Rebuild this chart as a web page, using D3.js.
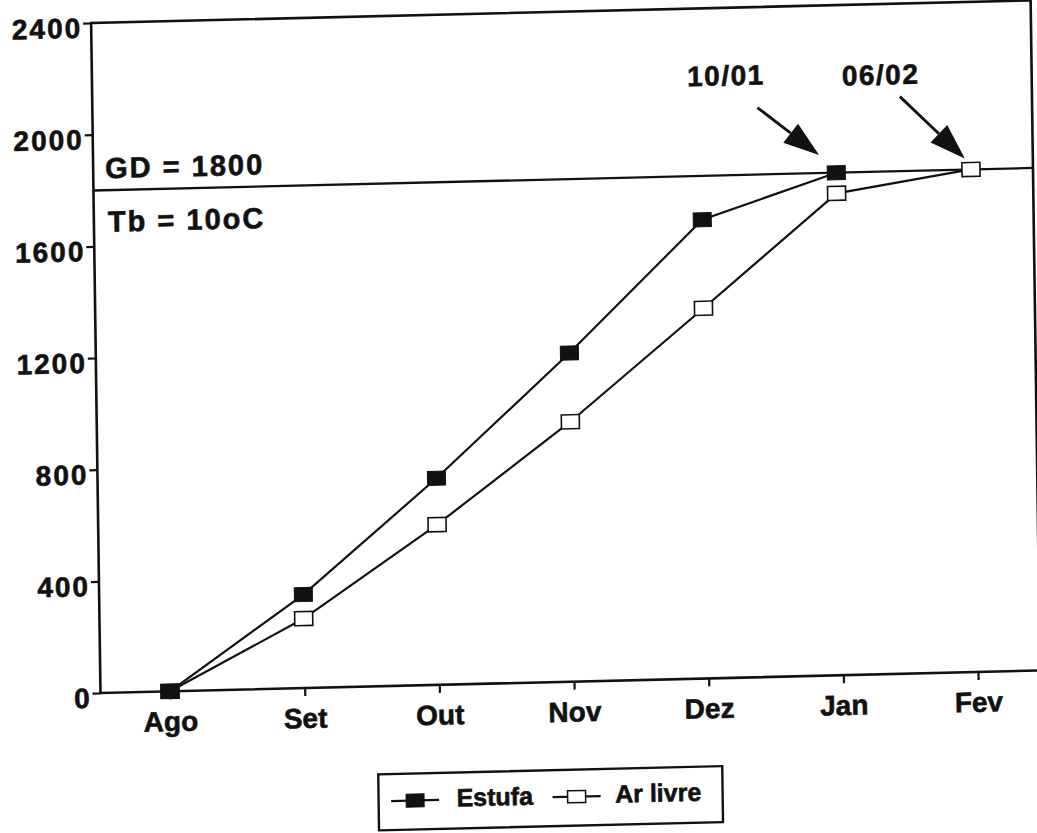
<!DOCTYPE html>
<html>
<head>
<meta charset="utf-8">
<script src="https://cdn.jsdelivr.net/npm/d3@7"></script>
<style>
  html, body { margin: 0; padding: 0; background: #ffffff; }
  text { font-family: "Liberation Sans", Arial, Helvetica, sans-serif; font-weight: bold; fill: #111; stroke: #111; stroke-width: 0.6px; }
</style>
</head>
<body>
<script>
// Graus-dia acumulados (Tb = 10 oC), estufa vs. ar livre
const months   = ["Ago", "Set", "Out", "Nov", "Dez", "Jan", "Fev"];
const estufa   = [0, 335, 740, 1177, 1643, 1800];          // Ago .. Jan
const arLivre  = [0, 249, 574, 931, 1326, 1726, 1800];     // Ago .. Fev
const yTicks   = [0, 400, 800, 1200, 1600, 2000, 2400];
const gdValue  = 1800;
const gdLabel  = "GD = 1800";
const tbLabel  = "Tb = 10oC";
const dateLabels = ["10/01", "06/02"];
const dateMonths = ["Jan", "Fev"];
const seriesNames = ["Estufa", "Ar livre"];

const W = 1037, H = 833;
const frame = { left: 100.5, right: 1040, top: 23, bottom: 693 };

const svg = d3.select("body").append("svg")
  .attr("width", W).attr("height", H);
svg.append("rect").attr("width", W).attr("height", H).attr("fill", "#ffffff");

// the whole figure sits at a slight tilt
const tilt = { b: -0.024, c: 0.014 };
const g = svg.append("g")
  .attr("transform", `matrix(1,${tilt.b},${tilt.c},1,${-tilt.c * frame.bottom},${-tilt.b * frame.left})`);

const x = d3.scalePoint().domain(months).range([170, 978]);
const y = d3.scaleLinear().domain([0, 2400]).range([frame.bottom, frame.top]);

// plot frame
g.append("rect")
  .attr("x", frame.left).attr("y", frame.top)
  .attr("width", frame.right - frame.left).attr("height", frame.bottom - frame.top)
  .attr("fill", "none").attr("stroke", "#111").attr("stroke-width", 2.6);

// y axis
const yAxis = d3.axisLeft(y).tickValues(yTicks).tickFormat(d3.format("d"))
  .tickSize(8).tickPadding(1).tickSizeOuter(0);
const gy = g.append("g").attr("transform", `translate(${frame.left},0)`).call(yAxis);
gy.select(".domain").remove();
gy.selectAll(".tick line").attr("stroke", "#111").attr("stroke-width", 2.2);
gy.selectAll(".tick text")
  .attr("dy", "0.5em")
  .style("font-size", "28px").style("letter-spacing", "2px")
  .attr("fill", "#111");

// x axis
const xAxis = d3.axisBottom(x).tickSize(8).tickPadding(12).tickSizeOuter(0);
const gx = g.append("g").attr("transform", `translate(0,${frame.bottom})`).call(xAxis);
gx.select(".domain").remove();
gx.selectAll(".tick line").attr("stroke", "#111").attr("stroke-width", 2.2);
gx.selectAll(".tick text").style("font-size", "28px").attr("fill", "#111");

// GD reference line
g.append("line")
  .attr("x1", frame.left).attr("x2", frame.right)
  .attr("y1", y(gdValue)).attr("y2", y(gdValue))
  .attr("stroke", "#111").attr("stroke-width", 2.3);
g.append("text").attr("x", frame.left + 12).attr("y", y(gdValue) - 12)
  .style("font-size", "29px").style("letter-spacing", "2px").text(gdLabel);
g.append("text").attr("x", frame.left + 14).attr("y", y(gdValue) + 41.5)
  .style("font-size", "29px").style("letter-spacing", "2px").text(tbLabel);

// series
const line = d3.line().x(d => x(d.m)).y(d => y(d.v));
const toPts = arr => arr.map((v, i) => ({ m: months[i], v }));
const mw = 18, mh = 14;

function drawSeries(vals, filled) {
  const pts = toPts(vals);
  g.append("path").datum(pts).attr("d", line)
    .attr("fill", "none").attr("stroke", "#111").attr("stroke-width", 2.2);
  g.selectAll(null).data(pts).enter().append("rect")
    .attr("x", d => x(d.m) - mw / 2).attr("y", d => y(d.v) - mh / 2)
    .attr("width", mw).attr("height", mh)
    .attr("fill", filled ? "#111" : "#fff")
    .attr("stroke", "#111").attr("stroke-width", filled ? 1 : 1.6);
}
drawSeries(arLivre, false);
drawSeries(estufa, true);

// date annotations with arrows
const arrows = [
  { m: dateMonths[0], label: dateLabels[0], tip: [-17, -18], tail: [-78, -67], text: [-109, -90] },
  { m: dateMonths[1], label: dateLabels[1], tip: [-6, -11], tail: [-70, -74.5], text: [-89, -87] }
];
arrows.forEach(a => {
  const px = x(a.m), py = y(gdValue);
  const tx = px + a.tip[0], ty = py + a.tip[1];
  const sx = px + a.tail[0], sy = py + a.tail[1];
  const ang = Math.atan2(ty - sy, tx - sx);
  const hl = 36, hw = 12;
  const bx = tx - hl * Math.cos(ang), by = ty - hl * Math.sin(ang);
  g.append("line").attr("x1", sx).attr("y1", sy).attr("x2", bx).attr("y2", by)
    .attr("stroke", "#111").attr("stroke-width", 2.8);
  const nx = -Math.sin(ang) * hw, ny = Math.cos(ang) * hw;
  g.append("path")
    .attr("d", `M${tx},${ty}L${bx + nx},${by + ny}L${bx - nx},${by - ny}Z`)
    .attr("fill", "#111");
  g.append("text").attr("x", px + a.text[0]).attr("y", py + a.text[1])
    .attr("text-anchor", "middle")
    .style("font-size", "28px").style("letter-spacing", "1.5px").text(a.label);
});

// legend
const lg = g.append("g");
lg.append("rect").attr("x", 377).attr("y", 781).attr("width", 344).attr("height", 56)
  .attr("fill", "#fff").attr("stroke", "#111").attr("stroke-width", 2.4);
const legendItems = [
  { name: seriesNames[0], cx: 413.5, filled: true, tx: 455 },
  { name: seriesNames[1], cx: 575, filled: false, tx: 613.5 }
];
legendItems.forEach(it => {
  const cy = 808;
  lg.append("line").attr("x1", it.cx - 24).attr("x2", it.cx + 24).attr("y1", cy).attr("y2", cy)
    .attr("stroke", "#111").attr("stroke-width", 2.2);
  lg.append("rect")
    .attr("x", it.cx - 9).attr("y", cy - (it.filled ? 6.5 : 6))
    .attr("width", 18).attr("height", it.filled ? 13 : 12)
    .attr("fill", it.filled ? "#111" : "#fff")
    .attr("stroke", "#111").attr("stroke-width", it.filled ? 1 : 1.5);
  lg.append("text").attr("x", it.tx).attr("y", 815)
    .style("font-size", "25px").text(it.name);
});
</script>
</body>
</html>
